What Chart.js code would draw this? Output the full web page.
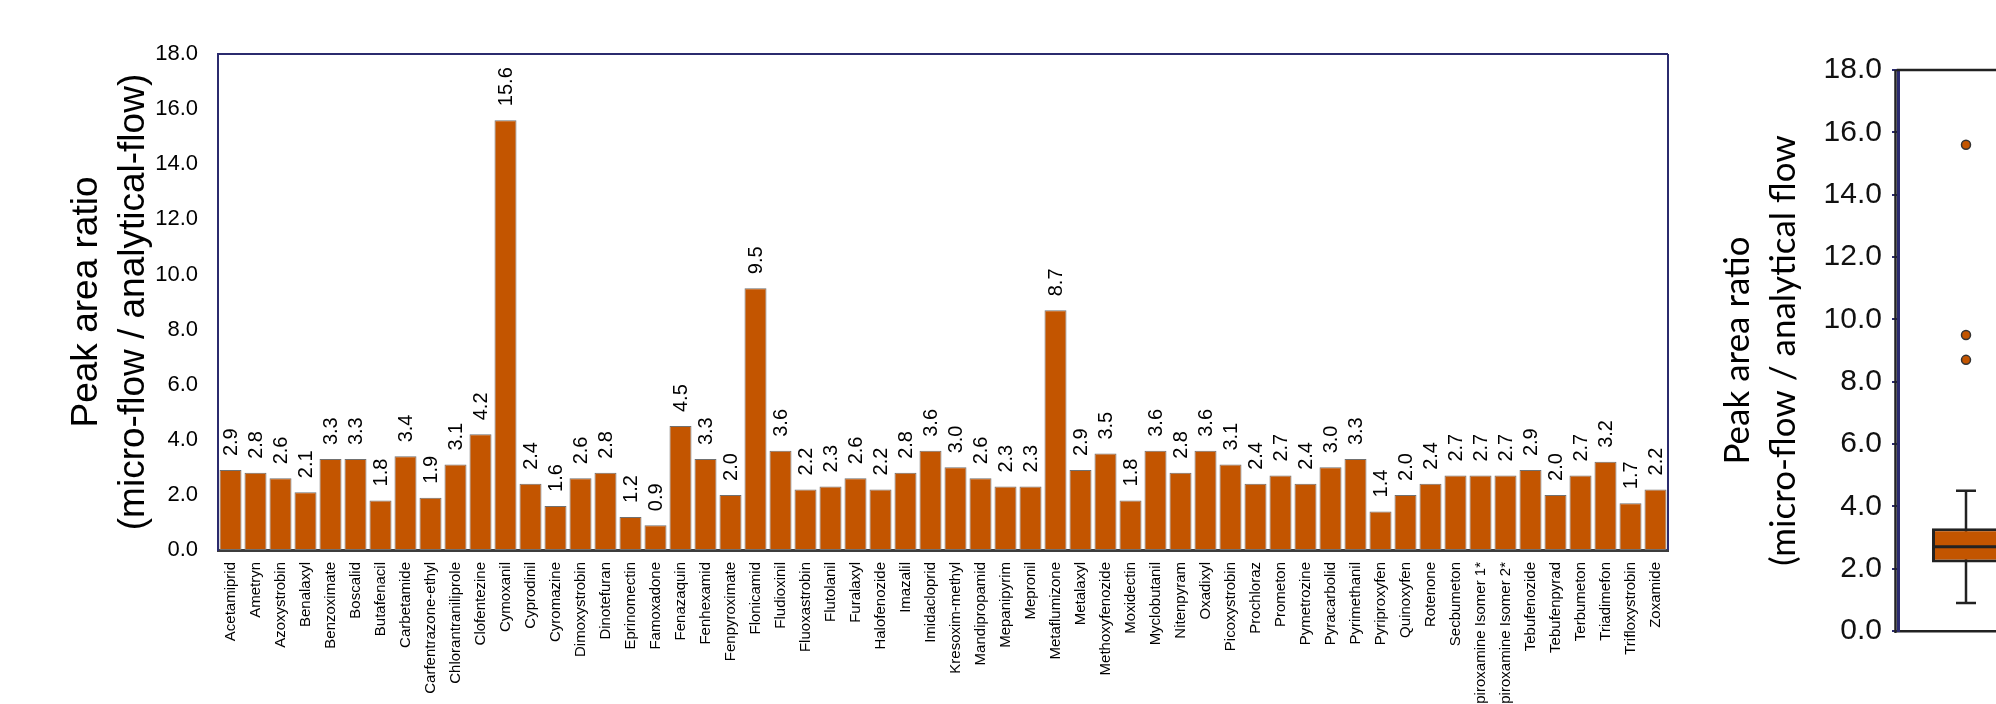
<!DOCTYPE html>
<html>
<head>
<meta charset="utf-8">
<script src="https://cdn.jsdelivr.net/npm/chart.js@4.4.1/dist/chart.umd.min.js"></script>
<style>
    html, body {
        margin: 0;
        padding: 0;
        width: 1996px;
        height: 704px;
        overflow: hidden;
        background: #ffffff;
    }
    .panel {
        position: absolute;
        top: 0;
    }
</style>
</head>
<body>
<div class="panel" style="left:0px"><canvas id="bars" width="1690" height="704"></canvas></div>
<div class="panel" style="left:1690px"><canvas id="box" width="360" height="704"></canvas></div>

<script>
const compounds = [
    "Acetamiprid", "Ametryn", "Azoxystrobin", "Benalaxyl", "Benzoximate", "Boscalid",
    "Butafenacil", "Carbetamide", "Carfentrazone-ethyl", "Chlorantraniliprole", "Clofentezine",
    "Cymoxanil", "Cyprodinil", "Cyromazine", "Dimoxystrobin", "Dinotefuran", "Eprinomectin",
    "Famoxadone", "Fenazaquin", "Fenhexamid", "Fenpyroximate", "Flonicamid", "Fludioxinil",
    "Fluoxastrobin", "Flutolanil", "Furalaxyl", "Halofenozide", "Imazalil", "Imidacloprid",
    "Kresoxim-methyl", "Mandipropamid", "Mepanipyrim", "Mepronil", "Metaflumizone", "Metalaxyl",
    "Methoxyfenozide", "Moxidectin", "Myclobutanil", "Nitenpyram", "Oxadixyl", "Picoxystrobin",
    "Prochloraz", "Prometon", "Pymetrozine", "Pyracarbolid", "Pyrimethanil", "Pyriproxyfen",
    "Quinoxyfen", "Rotenone", "Secbumeton", "Spiroxamine Isomer 1*", "Spiroxamine Isomer 2*",
    "Tebufenozide", "Tebufenpyrad", "Terbumeton", "Triadimefon", "Trifloxystrobin", "Zoxamide"
];

const ratios = [
    2.9, 2.8, 2.6, 2.1, 3.3, 3.3,
    1.8, 3.4, 1.9, 3.1, 4.2,
    15.6, 2.4, 1.6, 2.6, 2.8, 1.2,
    0.9, 4.5, 3.3, 2.0, 9.5, 3.6,
    2.2, 2.3, 2.6, 2.2, 2.8, 3.6,
    3.0, 2.6, 2.3, 2.3, 8.7, 2.9,
    3.5, 1.8, 3.6, 2.8, 3.6, 3.1,
    2.4, 2.7, 2.4, 3.0, 3.3, 1.4,
    2.0, 2.4, 2.7, 2.7, 2.7,
    2.9, 2.0, 2.7, 3.2, 1.7, 2.2
];

// box plot summary of the ratios
const boxLabel = "All compounds";
const whiskers = [0.9, 4.5];
const quartiles = [2.2, 3.3];
const median = [2.7];
const outliers = [15.6, 9.5, 8.7];

const yTitle = ["Peak area ratio", "(micro-flow / analytical-flow)"];
const yTitleBox = ["Peak area ratio", "(micro-flow / analytical flow"];

const ORANGE = "#c35500";
const NAVY = "#2b2b6e";
const ARIAL = "'Liberation Sans', Arial, sans-serif";

Chart.defaults.font.family = ARIAL;
Chart.defaults.color = "#000";

////////////////////////////////////////////////////////////////////////////////////

// outline of the plot area on the sides the axes don't cover
const plotFrame = {
    id: "plotFrame",
    afterDraw(chart, args, opts) {
        const {left, right, top, bottom} = chart.chartArea;
        const ctx = chart.ctx;
        ctx.save();
        ctx.lineWidth = opts.width;
        ctx.strokeStyle = opts.color;
        ctx.beginPath();
        if (opts.top) {
            ctx.moveTo(left - opts.width / 2, top);
            ctx.lineTo(right, top);
        }
        if (opts.right) {
            ctx.moveTo(right, top);
            ctx.lineTo(right, bottom);
        }
        if (opts.left) {
            ctx.moveTo(left - opts.left, top);
            ctx.lineTo(left - opts.left, bottom + 2);
        }
        ctx.stroke();
        ctx.restore();
    }
};

// rotated value printed above each bar
const barValueLabels = {
    id: "barValueLabels",
    afterDatasetsDraw(chart) {
        const ctx = chart.ctx;
        const meta = chart.getDatasetMeta(0);
        ctx.save();
        ctx.font = "20px " + ARIAL;
        ctx.fillStyle = "#000";
        ctx.textAlign = "left";
        ctx.textBaseline = "middle";
        meta.data.forEach((bar, i) => {
            ctx.save();
            ctx.translate(bar.x + 1, bar.y - 14);
            ctx.rotate(-Math.PI / 2);
            ctx.fillText(ratios[i].toFixed(1), 0, 0);
            ctx.restore();
        });
        ctx.restore();
    }
};

////////////////////////////////////////////////////////////////////////////////////

const bars = document.querySelector("#bars");
const barChart = new Chart(bars, {
    type: "bar",
    data: {
        labels: compounds,
        datasets: [
            {
                label: "Peak area ratio",
                data: ratios,
                backgroundColor: ORANGE,
                borderColor: "#707070",
                borderWidth: 1,
                borderSkipped: false,
                barPercentage: 0.88,
                categoryPercentage: 1.0
            }
        ]
    },
    options: {
        responsive: false,
        animation: false,
        layout: {
            autoPadding: false,
            padding: {left: 60, top: 54, right: 22, bottom: 0}
        },
        plugins: {
            legend: {display: false},
            tooltip: {enabled: false},
            plotFrame: {color: NAVY, width: 2, top: true, right: true}
        },
        scales: {
            x: {
                grid: {display: false, drawTicks: false, tickLength: 0},
                border: {display: true, color: "#3c3c3c", width: 3},
                ticks: {
                    autoSkip: false,
                    minRotation: 90,
                    maxRotation: 90,
                    padding: 12,
                    font: {size: 15},
                    color: "#000"
                },
                afterFit: (scale) => { scale.height = 154; }
            },
            y: {
                min: 0,
                max: 18,
                grid: {display: false, drawTicks: false, tickLength: 0},
                border: {display: true, color: NAVY, width: 2},
                ticks: {
                    stepSize: 2,
                    padding: 20,
                    font: {size: 22},
                    color: "#000",
                    callback: (v) => v.toFixed(1)
                },
                title: {
                    display: true,
                    text: yTitle,
                    font: {size: 37, lineHeight: 1.25},
                    color: "#000",
                    padding: {top: 4, bottom: 0}
                },
                afterFit: (scale) => { scale.width = 158; }
            }
        }
    },
    plugins: [plotFrame, barValueLabels]
});

////////////////////////////////////////////////////////////////////////////////////

const box = document.querySelector("#box");
const boxChart = new Chart(box, {
    type: "bar",
    data: {
        labels: [boxLabel],
        datasets: [
            {
                type: "line",
                label: "whisker",
                data: whiskers.map((v) => ({x: boxLabel, y: v})),
                borderColor: "#222",
                borderWidth: 2.5,
                pointStyle: "line",
                pointRadius: 10,
                pointBorderWidth: 2.5,
                pointBorderColor: "#222",
                order: 3
            },
            {
                label: "interquartile",
                data: [quartiles],
                backgroundColor: ORANGE,
                borderColor: "#222",
                borderWidth: 3,
                borderSkipped: false,
                barPercentage: 0.5,
                categoryPercentage: 1.0,
                order: 2
            },
            {
                type: "line",
                label: "median",
                data: median.map((v) => ({x: boxLabel, y: v})),
                showLine: false,
                pointStyle: "line",
                pointRadius: 34,
                pointBorderWidth: 3,
                pointBorderColor: "#222",
                order: 1
            },
            {
                type: "line",
                label: "outliers",
                data: outliers.map((v) => ({x: boxLabel, y: v})),
                showLine: false,
                pointStyle: "circle",
                pointRadius: 4.5,
                pointBackgroundColor: ORANGE,
                pointBorderColor: "#333",
                pointBorderWidth: 1.5,
                order: 1
            }
        ]
    },
    options: {
        responsive: false,
        animation: false,
        layout: {
            autoPadding: false,
            padding: {left: 20, top: 70, right: 16, bottom: 0}
        },
        plugins: {
            legend: {display: false},
            tooltip: {enabled: false},
            plotFrame: {color: "#222", width: 2.5, top: true, left: 2.5}
        },
        scales: {
            x: {
                grid: {display: false},
                border: {display: true, color: "#222", width: 2.5},
                ticks: {display: false},
                afterFit: (scale) => { scale.height = 73; }
            },
            y: {
                min: 0,
                max: 18,
                grid: {
                    display: true,
                    drawOnChartArea: false,
                    drawTicks: true,
                    tickLength: 6,
                    tickColor: NAVY,
                    lineWidth: 2
                },
                border: {display: true, color: NAVY, width: 3},
                ticks: {
                    stepSize: 2,
                    padding: 10,
                    font: {size: 30},
                    color: "#111",
                    callback: (v) => v.toFixed(1)
                },
                title: {
                    display: true,
                    text: yTitleBox,
                    font: {family: "Lato, 'Open Sans', sans-serif", size: 35, lineHeight: 1.31},
                    color: "#000",
                    padding: {top: 5, bottom: 0}
                },
                afterFit: (scale) => { scale.width = 188; }
            }
        }
    },
    plugins: [plotFrame]
});
</script>
</body>
</html>
